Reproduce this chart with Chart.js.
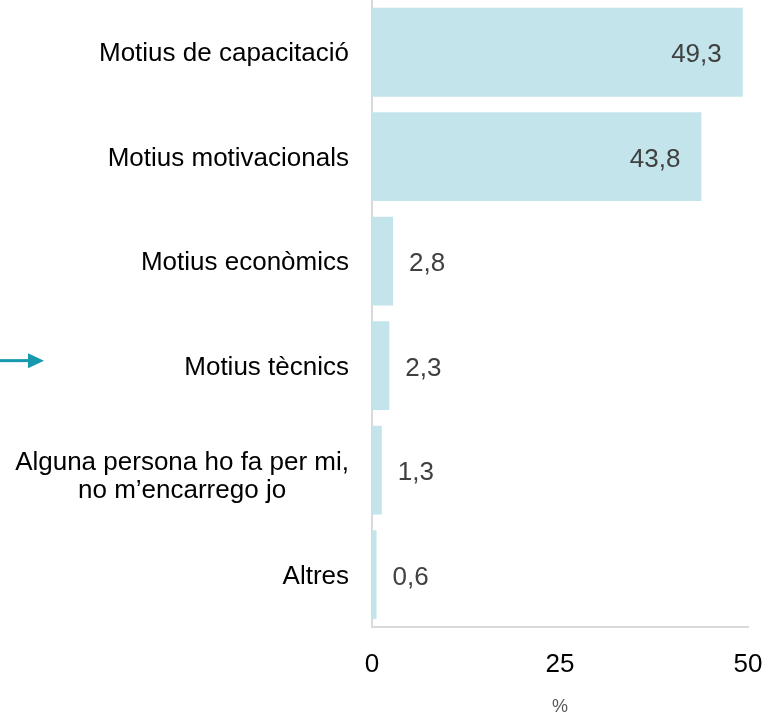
<!DOCTYPE html>
<html>
<head>
<meta charset="utf-8">
<script src="https://cdn.jsdelivr.net/npm/chart.js@4"></script>
<style>
html,body{margin:0;padding:0;background:#fff;}
#wrap{width:767px;height:716px;position:relative;}
</style>
</head>
<body>
<div id="wrap"><canvas id="c"></canvas></div>
<script>
const categories = [
  ["Motius de capacitació"],
  ["Motius motivacionals"],
  ["Motius econòmics"],
  ["Motius tècnics"],
  ["Alguna persona ho fa per mi,", "no m’encarrego jo"],
  ["Altres"]
];
const values = [49.3, 43.8, 2.8, 2.3, 1.3, 0.6];
const xTicks = [0, 25, 50];
const axisTitle = "%";
const markedIndex = 3;

const FONT = "'Liberation Sans', Arial, sans-serif";

const overlay = {
  id: 'overlay',
  afterDatasetsDraw(chart) {
    const ctx = chart.ctx;
    const ys = chart.scales.y;
    const meta = chart.getDatasetMeta(0);
    ctx.save();
    // category labels
    ctx.font = "26px " + FONT;
    ctx.fillStyle = "#000000";
    ctx.textBaseline = "middle";
    const rightEdge = chart.chartArea.left - 23;
    categories.forEach((lines, i) => {
      const y = ys.getPixelForValue(i);
      const lh = 28;
      if (lines.length === 1) {
        ctx.textAlign = "right";
        ctx.fillText(lines[0], rightEdge, y + 2);
      } else {
        let mw = 0;
        lines.forEach(l => { mw = Math.max(mw, ctx.measureText(l).width); });
        ctx.textAlign = "center";
        const cx = rightEdge - mw / 2;
        const y0 = y - (lines.length - 1) * lh / 2;
        lines.forEach((l, k) => ctx.fillText(l, cx, y0 + k * lh + 7));
      }
    });
    // value labels
    ctx.fillStyle = "#404040";
    values.forEach((v, i) => {
      const bar = meta.data[i];
      const txt = v.toFixed(1).replace('.', ',');
      if (v > 10) {
        ctx.textAlign = "right";
        ctx.fillText(txt, bar.x - 21, bar.y + 3);
      } else {
        ctx.textAlign = "left";
        ctx.fillText(txt, bar.x + 16, bar.y + 3);
      }
    });
    // arrow marker
    const ay = ys.getPixelForValue(markedIndex) - 5;
    ctx.strokeStyle = "#1699AE";
    ctx.fillStyle = "#1699AE";
    ctx.lineWidth = 3;
    ctx.beginPath();
    ctx.moveTo(0, ay);
    ctx.lineTo(30, ay);
    ctx.stroke();
    ctx.beginPath();
    ctx.moveTo(28, ay - 7.5);
    ctx.lineTo(44, ay);
    ctx.lineTo(28, ay + 7.5);
    ctx.closePath();
    ctx.fill();
    ctx.restore();
  }
};

new Chart(document.getElementById('c'), {
  type: 'bar',
  data: {
    labels: categories.map(c => c.join(' ')),
    datasets: [{
      data: values,
      backgroundColor: '#C2E4EA',
      borderWidth: 0,
      barPercentage: 0.85,
      categoryPercentage: 1.0
    }]
  },
  options: {
    indexAxis: 'y',
    responsive: true,
    maintainAspectRatio: false,
    animation: false,
    layout: { padding: { left: 372, right: 19, top: 0, bottom: 0 } },
    plugins: { legend: { display: false }, tooltip: { enabled: false } },
    scales: {
      x: {
        min: 0, max: 50,
        afterBuildTicks(scale) { scale.ticks = xTicks.map(v => ({ value: v })); },
        afterFit(scale) { scale.paddingRight = 0; scale.paddingLeft = 0; },
        grid: { display: false, drawTicks: false },
        border: { display: true, color: '#D9D9D9', width: 2 },
        ticks: { color: '#000', font: { family: FONT, size: 26 }, padding: 22, maxRotation: 0 },
        title: { display: true, text: axisTitle, color: '#595959', font: { family: FONT, size: 18, lineHeight: 1 }, padding: { top: -4, bottom: 0 } }
      },
      y: {
        grid: { display: false, drawTicks: false },
        border: { display: true, color: '#D9D9D9', width: 2 },
        ticks: { display: false }
      }
    }
  },
  plugins: [overlay]
});
</script>
</body>
</html>
